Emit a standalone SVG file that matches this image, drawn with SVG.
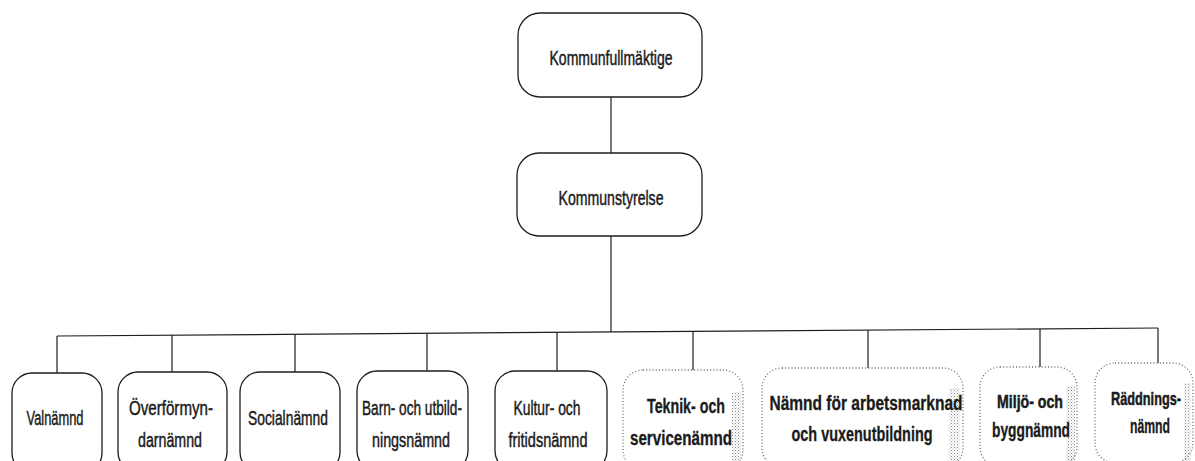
<svg xmlns="http://www.w3.org/2000/svg" width="1195" height="461" viewBox="0 0 1195 461">
<defs>
<pattern id="stip" width="3" height="3" patternUnits="userSpaceOnUse">
<rect x="0" y="0" width="1" height="1" fill="#8a8a8a"/>
<rect x="1.5" y="1.5" width="1" height="1" fill="#b0b0b0"/>
</pattern>
</defs>
<style>
.bg{fill:#ffffff}
.box{fill:#ffffff;stroke:#1e1e1e;stroke-width:1.3}
.dot{fill:#ffffff;stroke:#6a6a6a;stroke-width:1.3;stroke-dasharray:1 2.2}
.shade{fill:url(#stip);stroke:none}
.conn{fill:none;stroke:#1e1e1e;stroke-width:1.2}
.t{font-family:"Liberation Sans",Arial,sans-serif;font-size:20px;fill:#1a1a1a;stroke:#1a1a1a;stroke-width:0.45;text-anchor:middle}
.b{font-weight:bold;stroke-width:0.3}
.s{font-size:18px;stroke-width:0.5}
</style>
<rect class="bg" x="0" y="0" width="1195" height="461"/>
<g id="connectors">
<line class="conn" x1="611" y1="97" x2="611" y2="153"/>
<line class="conn" x1="611" y1="236" x2="611" y2="332"/>
<line class="conn" x1="57" y1="336" x2="1158" y2="328"/>
<line class="conn" x1="57" y1="336" x2="57" y2="373"/>
<line class="conn" x1="172" y1="335.2" x2="172" y2="372"/>
<line class="conn" x1="295" y1="334.3" x2="295" y2="372"/>
<line class="conn" x1="427" y1="333.3" x2="427" y2="371"/>
<line class="conn" x1="557" y1="332.4" x2="557" y2="371"/>
<line class="conn" x1="693" y1="331.4" x2="693" y2="370"/>
<line class="conn" x1="868" y1="330.1" x2="868" y2="368"/>
<line class="conn" x1="1040" y1="328.9" x2="1040" y2="367"/>
<line class="conn" x1="1158" y1="328" x2="1158" y2="363"/>
</g>
<g id="kommunfullmaktige">
<rect class="box" x="518" y="13" width="184" height="84" rx="22"/>
<text class="t" x="611" y="65" textLength="123" lengthAdjust="spacingAndGlyphs">Kommunfullmäktige</text>
</g>
<g id="kommunstyrelse">
<rect class="box" x="517" y="153" width="185" height="83" rx="22"/>
<text class="t" x="611" y="205" textLength="105" lengthAdjust="spacingAndGlyphs">Kommunstyrelse</text>
</g>
<g id="valnamnd">
<rect class="box" x="12" y="373" width="90" height="100" rx="20"/>
<text class="t" x="55" y="425" textLength="57" lengthAdjust="spacingAndGlyphs">Valnämnd</text>
</g>
<g id="overformyndarnamnd">
<rect class="box" x="118" y="372" width="109" height="100" rx="20"/>
<text class="t" x="171" y="415" textLength="84" lengthAdjust="spacingAndGlyphs">Överförmyn-</text>
<text class="t" x="170" y="447" textLength="64" lengthAdjust="spacingAndGlyphs">darnämnd</text>
</g>
<g id="socialnamnd">
<rect class="box" x="240" y="372" width="100" height="100" rx="20"/>
<text class="t" x="288" y="425" textLength="80" lengthAdjust="spacingAndGlyphs">Socialnämnd</text>
</g>
<g id="barn-och-utbildningsnamnd">
<rect class="box" x="357" y="371" width="111" height="100" rx="20"/>
<text class="t" x="412" y="415" textLength="100" lengthAdjust="spacingAndGlyphs">Barn- och utbild-</text>
<text class="t" x="411" y="447" textLength="78" lengthAdjust="spacingAndGlyphs">ningsnämnd</text>
</g>
<g id="kultur-och-fritidsnamnd">
<rect class="box" x="495" y="371" width="112" height="100" rx="20"/>
<text class="t" x="547" y="415" textLength="67" lengthAdjust="spacingAndGlyphs">Kultur- och</text>
<text class="t" x="548" y="447" textLength="79" lengthAdjust="spacingAndGlyphs">fritidsnämnd</text>
</g>
<g id="teknik-och-servicenamnd">
<rect class="dot" x="623" y="370" width="120" height="100" rx="20"/>
<rect class="shade" x="732" y="392" width="9" height="69"/>
<text class="t b" x="686" y="413" textLength="78" lengthAdjust="spacingAndGlyphs">Teknik- och</text>
<text class="t b" x="681" y="445" textLength="102" lengthAdjust="spacingAndGlyphs">servicenämnd</text>
</g>
<g id="namnd-for-arbetsmarknad">
<rect class="dot" x="762" y="368" width="201" height="100" rx="20"/>
<rect class="shade" x="949" y="388" width="11" height="73"/>
<text class="t b" x="866" y="410" textLength="193" lengthAdjust="spacingAndGlyphs">Nämnd för arbetsmarknad</text>
<text class="t b" x="862" y="441" textLength="141" lengthAdjust="spacingAndGlyphs">och vuxenutbildning</text>
</g>
<g id="miljo-och-byggnamnd">
<rect class="dot" x="980" y="367" width="97" height="100" rx="20"/>
<rect class="shade" x="1066" y="386" width="9" height="75"/>
<text class="t b s" x="1030" y="408" textLength="66" lengthAdjust="spacingAndGlyphs">Miljö- och</text>
<text class="t b" x="1031" y="437" textLength="78" lengthAdjust="spacingAndGlyphs">byggnämnd</text>
</g>
<g id="raddningsnamnd">
<rect class="dot" x="1095" y="363" width="98" height="100" rx="20"/>
<rect class="shade" x="1184" y="383" width="7" height="78"/>
<text class="t b s" x="1146" y="405" textLength="70" lengthAdjust="spacingAndGlyphs">Räddnings-</text>
<text class="t b" x="1150" y="433" textLength="40" lengthAdjust="spacingAndGlyphs">nämnd</text>
</g>
</svg>
